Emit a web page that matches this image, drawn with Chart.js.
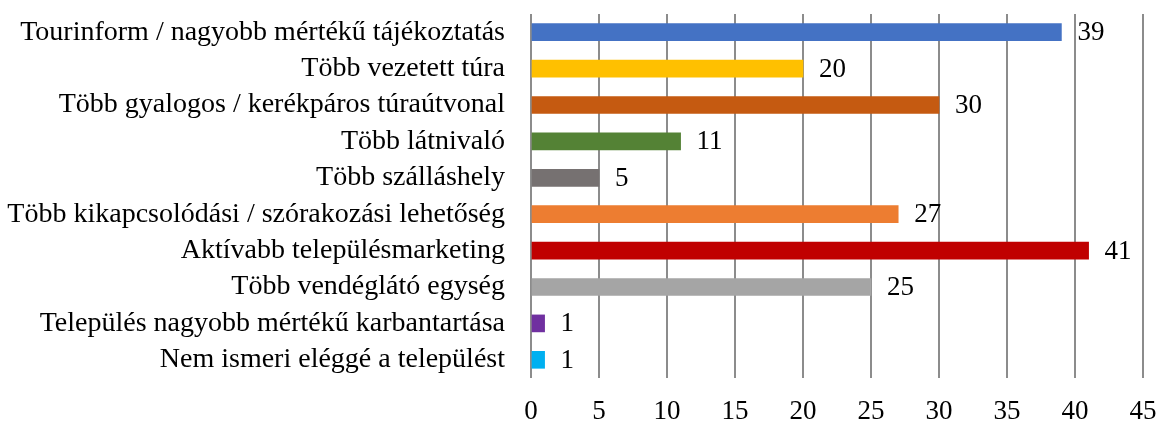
<!DOCTYPE html>
<html>
<head>
<meta charset="utf-8">
<script src="https://cdn.jsdelivr.net/npm/chart.js@4"></script>
<style>
  html, body { margin: 0; padding: 0; background: #fff; }
  #wrap { width: 1158px; height: 423px; }
</style>
</head>
<body>
<div id="wrap"><canvas id="chart"></canvas></div>
<script>
// Chart data
const categories = [
  'Tourinform / nagyobb mértékű tájékoztatás',
  'Több vezetett túra',
  'Több gyalogos / kerékpáros túraútvonal',
  'Több látnivaló',
  'Több szálláshely',
  'Több kikapcsolódási / szórakozási lehetőség',
  'Aktívabb településmarketing',
  'Több vendéglátó egység',
  'Település nagyobb mértékű karbantartása',
  'Nem ismeri eléggé a települést'
];
const values = [39, 20, 30, 11, 5, 27, 41, 25, 1, 1];
const barColors = ['#4472C4', '#FFC000', '#C55A11', '#548235', '#767171',
                   '#ED7D31', '#C00000', '#A5A5A5', '#7030A0', '#00B0F0'];
const xTicks = [0, 5, 10, 15, 20, 25, 30, 35, 40, 45];

const FONT = '"Liberation Serif", "Times New Roman", serif';

// value labels to the right of each bar
const valueLabels = {
  id: 'valueLabels',
  afterDatasetsDraw(chart) {
    const ctx = chart.ctx;
    const meta = chart.getDatasetMeta(0);
    ctx.save();
    ctx.font = '27px ' + FONT;
    ctx.fillStyle = '#000';
    ctx.textAlign = 'left';
    ctx.textBaseline = 'middle';
    meta.data.forEach((bar, i) => {
      ctx.fillText(String(values[i]), bar.x + 16, bar.y + 1);
    });
    ctx.restore();
  }
};

new Chart(document.getElementById('chart'), {
  type: 'bar',
  data: {
    labels: categories,
    datasets: [{
      data: values,
      backgroundColor: barColors,
      barThickness: 17
    }]
  },
  options: {
    indexAxis: 'y',
    responsive: true,
    maintainAspectRatio: false,
    animation: false,
    layout: { padding: { top: 14, right: 15, left: 0, bottom: 0 } },
    plugins: { legend: { display: false }, tooltip: { enabled: false } },
    scales: {
      x: {
        min: 0,
        max: 45,
        afterBuildTicks: axis => { axis.ticks = xTicks.map(v => ({ value: v })); },
        afterFit: axis => {
          axis.height = 45;
          axis.paddingLeft = 0;
          axis.paddingRight = 0;
        },
        grid: { color: '#8c8c8c', lineWidth: 2, drawTicks: false },
        border: { display: false },
        ticks: { color: '#000', font: { family: FONT, size: 27 }, padding: 18, maxRotation: 0 }
      },
      y: {
        afterFit: axis => {
          axis.width = 531;
          axis.paddingTop = 0;
          axis.paddingBottom = 0;
        },
        grid: { display: false },
        border: { display: false },
        ticks: { color: '#000', font: { family: FONT, size: 28 }, padding: 18, autoSkip: false }
      }
    }
  },
  plugins: [valueLabels]
});
</script>
</body>
</html>
